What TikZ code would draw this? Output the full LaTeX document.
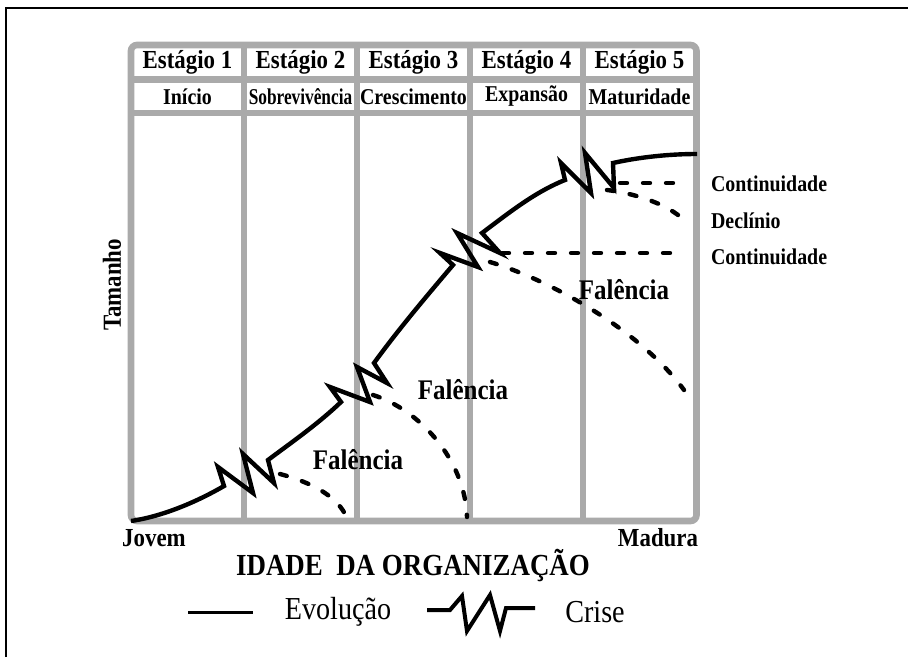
\documentclass[tikz,border=0pt]{standalone}
\usepackage{fontspec}
\usepackage{graphicx}
\setmainfont{Liberation Serif}[FakeStretch=0.88]
\definecolor{cinza}{RGB}{170,170,170}
\tikzset{
  grade/.style={draw=cinza, line width=3.3pt},
  evolucao/.style={line width=2.2pt, line join=miter},
  falha/.style={line width=2.2pt, line cap=round, dash pattern=on 3.5pt off 8pt},
  cab/.style={font=\bfseries\fontsize{13}{14}\selectfont},
  sub/.style={font=\bfseries\fontsize{11.3}{12}\selectfont},
  rotulo/.style={font=\bfseries\fontsize{11.3}{12}\selectfont, anchor=west},
  fal/.style={font=\bfseries\fontsize{14.2}{15}\selectfont},
}

\begin{document}
\begin{tikzpicture}[x=0.5pt, y=-0.5pt]
  \useasboundingbox (0,0) rectangle (908,657);
  % moldura
  \draw[line width=1pt] (6,657) -- (6,8.5) -- (908,8.5);

  % grade dos estagios
  \draw[grade, rounded corners=3pt] (131,45) rectangle (696.5,521);
  \draw[grade] (131,79.5) -- (696.5,79.5);
  \draw[grade] (131,113) -- (696.5,113);
  \foreach \x in {244,357,470,583}
    \draw[grade] (\x,45) -- (\x,521);

  \foreach \x/\e/\s in {187.5/1/Início, 300.5/2/{\scalebox{0.87}[1]{Sobrevivência}}, 413.5/3/Crescimento, 526.5/4/Expansão, 639.5/5/Maturidade}{
    \node[cab] (est\e) at (\x,62.5) {Estágio \e};
    \node[sub] (fase\e) at (\x,96.5) {\s};
  }

  % curva de evolucao com as crises
  \draw[evolucao] (131,521) .. controls (165,516) and (200,500) .. (224,486)
    -- (218,467) -- (253,493) -- (243,454) -- (274,483) -- (268,460)
    .. controls (292,442) and (318,424) .. (341,402)
    -- (330,387) -- (370,402) -- (357,367) -- (387,383) -- (374,363)
    .. controls (398,330) and (425,298) .. (453,265)
    -- (440,253) -- (478,267) -- (457,233) -- (500,253) -- (482,233)
    .. controls (510,212) and (535,192) .. (565,180)
    -- (561,163) -- (591,193) -- (585,153) -- (614,188) -- (613,163)
    .. controls (640,157) and (670,154) .. (697,154);

  % caminhos apos as crises
  \draw[falha] (280,474) .. controls (310,482) and (335,495) .. (345,514);
  \draw[falha] (373,395) .. controls (420,410) and (465,460) .. (467,517);
  \draw[falha] (502,253) -- (675,253);
  \draw[falha] (490,262) .. controls (550,280) and (640,330) .. (684,390);
  \draw[falha] (620,183) -- (682,183);
  \draw[falha] (607,190) .. controls (632,193) and (667,203) .. (685,221);

  \node[fal] (fal1) at (358,460) {Falência};
  \node[fal] (fal2) at (463,390) {Falência};
  \node[fal] (fal3) at (624,290) {Falência};
  \node[rotulo] (cont1) at (704,184) {Continuidade};
  \node[rotulo] (decl) at (704,221) {Declínio};
  \node[rotulo] (cont2) at (704,257) {Continuidade};

  % eixos
  \node[cab, rotate=90] (tam) at (112,285) {Tamanho};
  \node[cab] (jovem) at (154,538) {Jovem};
  \node[cab] (madura) at (658,538) {Madura};
  \node[font=\bfseries\fontsize{15.3}{16}\selectfont] (idade) at (413,566) {IDADE\ \ DA ORGANIZAÇÃO};

  % legenda
  \draw[line width=1.5pt] (188,612) -- (253,612);
  \node[font=\fontsize{16}{17}\selectfont] (evol) at (338,612) {Evolução};
  \draw[line width=2pt, line join=miter] (427,610) -- (450,610) -- (462,596) -- (467,631)
    -- (490,595) -- (500,631) -- (506,608) -- (535,608);
  \node[font=\fontsize{16}{17}\selectfont] (crise) at (595,612) {Crise};
\end{tikzpicture}
\end{document}
